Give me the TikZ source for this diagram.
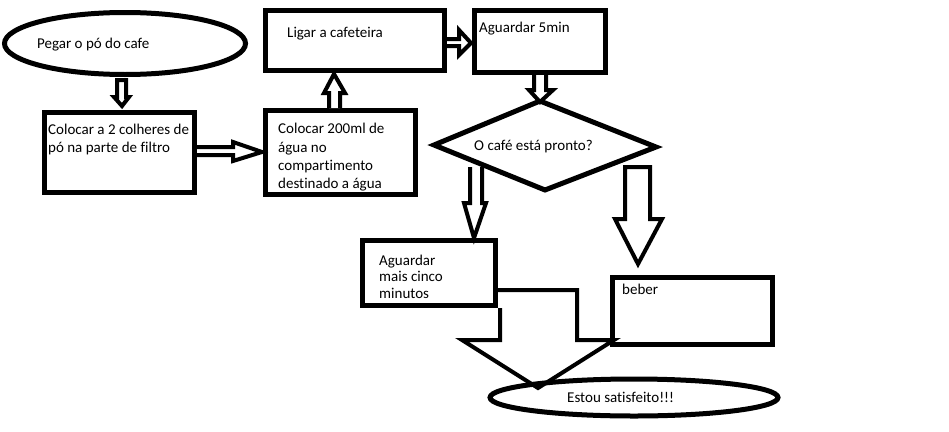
\documentclass[tikz,border=0pt]{standalone}
\usepackage{fontspec}
\setmainfont[Ligatures=NoCommon]{Carlito}
\begin{document}
\begin{tikzpicture}[x=1pt,y=-1pt,
  txt/.style={anchor=base west,inner sep=0pt,font=\fontsize{15}{18.5}\selectfont},
  outline/.style={line width=5pt},
  blk/.style={draw,line width=4pt,line join=miter,fill=white}]
\useasboundingbox (0,0) rectangle (949,431);
\draw[outline] (125,43.5) ellipse [x radius=120.5,y radius=31];
\node[txt] (t0) at (37,48) {Pegar o pó do cafe};
\draw[outline] (634,397.5) ellipse [x radius=144,y radius=18.5];
\node[txt] (t9) at (567,402) {Estou satisfeito!!!};

\draw[outline] (44.5,112.5) rectangle (194.5,192.5);
\node[txt] (t1a) at (48,134) {Colocar a 2 colheres de};
\node[txt] (t1b) at (48,152) {pó na parte de filtro};
\draw[outline] (265.5,110.5) rectangle (415.5,194.5);
\node[txt] (t2a) at (278,133) {Colocar 200ml de};
\node[txt] (t2b) at (278,152) {água no};
\node[txt] (t2c) at (278,170) {compartimento};
\node[txt] (t2d) at (278,188) {destinado a água};
\draw[outline] (265.5,10.5) rectangle (444.5,70.5);
\node[txt] (t3) at (287,37) {Ligar a cafeteira};
\draw[outline] (474.5,10.5) rectangle (605,72.5);
\node[txt] (t4) at (479,32) {Aguardar 5min};
\draw[outline,line join=miter] (434,145) -- (540,101) -- (656,147) -- (545,190) -- cycle;
\node[txt] (t5) at (474,150) {O café está pronto?};
\draw[outline] (362.5,240.5) rectangle (495.5,305.5);
\node[txt] (t6) at (379,265) {Aguardar};
\node[txt] (t7) at (379,281) {mais cinco};
\node[txt] (t8) at (379,298) {minutos};
\draw[outline] (612.5,277.5) rectangle (772.5,344.5);
\node[txt] (t10) at (622,294) {beber};

% block arrows
\draw[blk] (117,80) -- (126,80) -- (126,97) -- (129,97) -- (122,106) -- (114,97) -- (117,97) -- cycle;
\draw[blk] (197,147) -- (233,147) -- (233,142) -- (262,152) -- (233,161) -- (233,155) -- (197,155);
\draw[blk] (329,108) -- (329,93) -- (324,93) -- (334,74) -- (345,93) -- (340,93) -- (340,108);
\draw[blk] (447,39) -- (459,39) -- (459,30) -- (471,43) -- (459,55) -- (459,46) -- (447,46);
\draw[blk] (534,75) -- (534,90) -- (529,90) -- (540,102) -- (553,90) -- (546,90) -- (546,75);
\draw[blk] (470,167) -- (470,203) -- (464,203) -- (474,238) -- (486,203) -- (482,203) -- (482,167);
\draw[blk] (625,167) -- (625,219) -- (615,219) -- (638,264) -- (662,219) -- (650,219) -- (650,167) -- cycle;
\draw[blk,fill=none] (498,290) -- (577,290) -- (577,340) -- (614,340) -- (538,388) -- (462,340) -- (500,340) -- (500,308);
\end{tikzpicture}
\end{document}
